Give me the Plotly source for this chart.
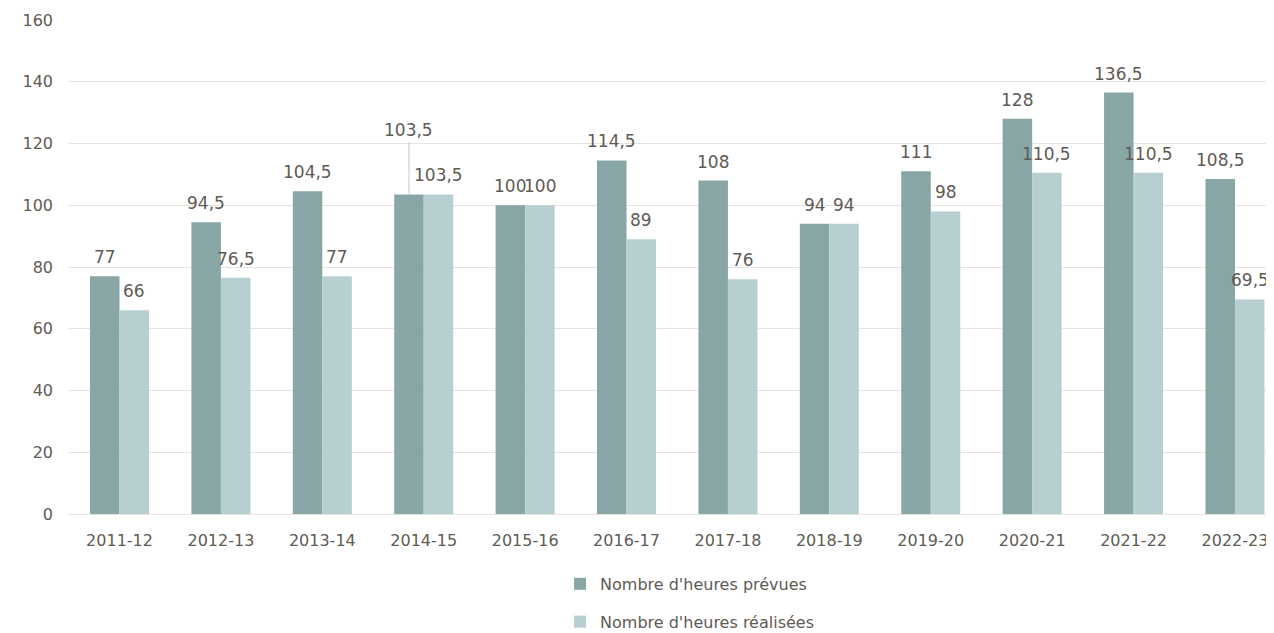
import plotly.graph_objects as go

categories = ["2011-12", "2012-13", "2013-14", "2014-15", "2015-16", "2016-17",
              "2017-18", "2018-19", "2019-20", "2020-21", "2021-22", "2022-23"]
prevues = [77, 94.5, 104.5, 103.5, 100, 114.5, 108, 94, 111, 128, 136.5, 108.5]
realisees = [66, 76.5, 77, 103.5, 100, 89, 76, 94, 98, 110.5, 110.5, 69.5]
yticks = [0, 20, 40, 60, 80, 100, 120, 140, 160]

def fmt(v):
    return f"{v:g}".replace(".", ",")

FONT = "'DejaVu Sans', sans-serif"
TXT = "#5f5a54"
LBL = dict(size=17, color=TXT, family=FONT)
OFF = 14.75

fig = go.Figure()
fig.add_trace(go.Bar(
    x=categories, y=prevues, name="Nombre d'heures prévues", legendgroup="a",
    marker=dict(color="#88A6A6", line=dict(width=0)),
))
fig.add_trace(go.Bar(
    x=categories, y=realisees, name="Nombre d'heures réalisées", legendgroup="b",
    marker=dict(color="#B8CFD2", line=dict(width=0)),
))

# value labels above each bar
for i, cat in enumerate(categories):
    if i == 3:
        fig.add_annotation(
            x=cat, y=prevues[i], xshift=-OFF, text=fmt(prevues[i]),
            showarrow=True, arrowhead=0, arrowcolor="#c9c6bf", arrowwidth=1,
            ax=0, ay=-52, yanchor="bottom", font=LBL,
        )
    else:
        fig.add_annotation(x=cat, y=prevues[i], xshift=-OFF, yshift=7,
                           text=fmt(prevues[i]), showarrow=False,
                           yanchor="bottom", font=LBL)
    fig.add_annotation(x=cat, y=realisees[i], xshift=OFF, yshift=7,
                       text=fmt(realisees[i]), showarrow=False,
                       yanchor="bottom", font=LBL)

fig.update_layout(
    width=1266, height=633,
    margin=dict(l=60, r=0, t=12, b=127),
    paper_bgcolor="white", plot_bgcolor="white",
    barmode="group", bargap=0.418, bargroupgap=0,
    font=dict(family=FONT, size=16, color=TXT),
    showlegend=True,
    legend=dict(orientation="v", x=0.408, xanchor="left",
                yref="container", y=0.117, yanchor="top",
                itemwidth=30,
                font=dict(size=16, color=TXT, family=FONT), tracegroupgap=14),
    yaxis=dict(range=[0, 160], tickvals=yticks, showgrid=True, gridcolor="#e6e4df",
               gridwidth=1, zeroline=False, ticks="", tickfont=dict(size=16),
               ticklabelstandoff=14, automargin=False),
    xaxis=dict(type="category", range=[-0.508, 11.385], showline=True,
               linecolor="#e6e4df", ticks="", tickfont=dict(size=16),
               ticklabelstandoff=12, automargin=False),
)

fig.write_html("out.html")
